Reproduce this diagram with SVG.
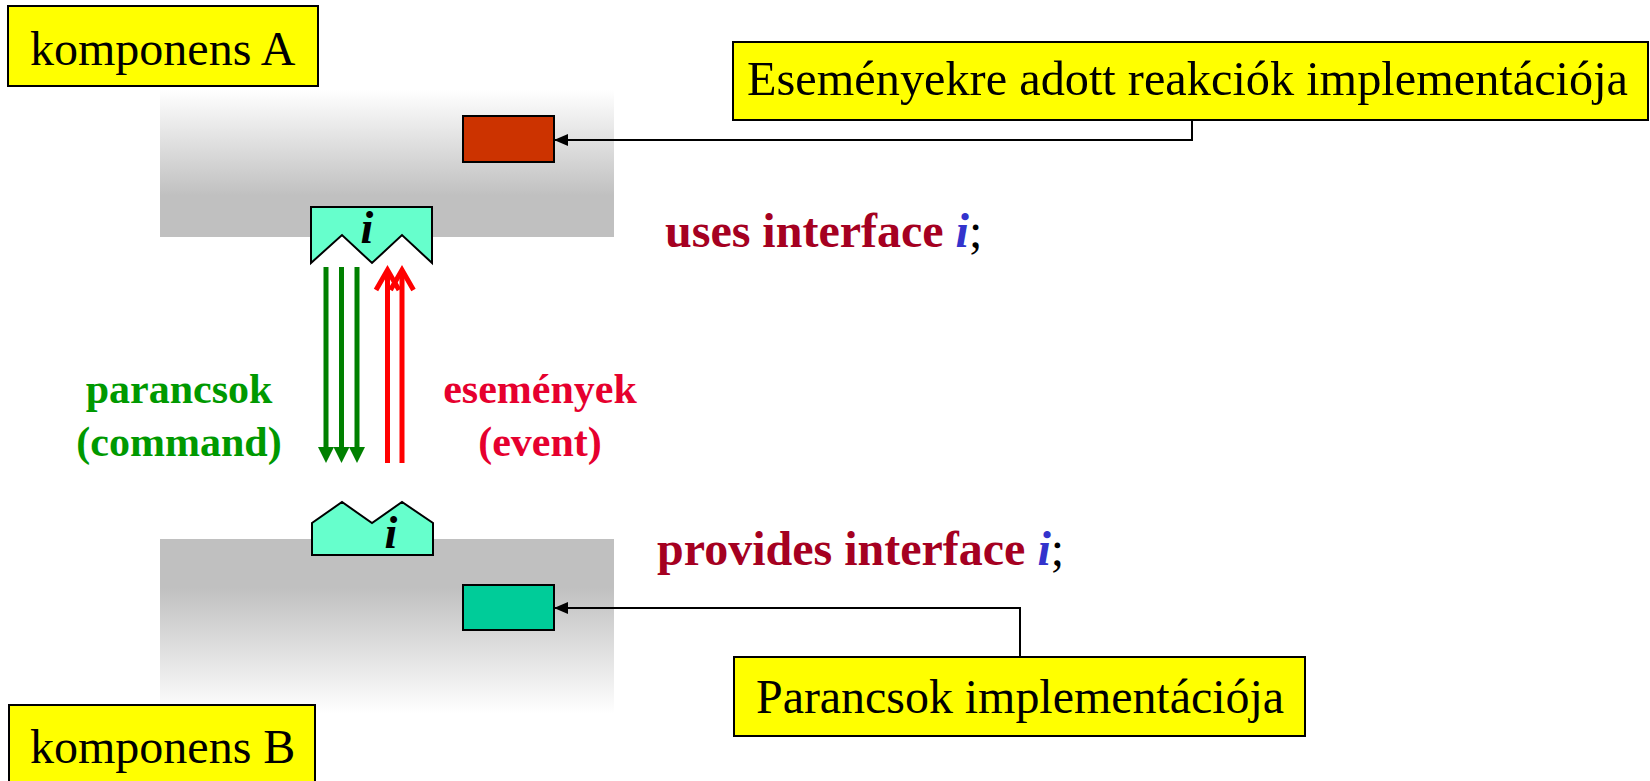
<svg xmlns="http://www.w3.org/2000/svg" width="1650" height="781" viewBox="0 0 1650 781">
<style>
.lbl{font-family:"Liberation Serif","Times New Roman",serif;font-size:48px;fill:#000}
.ybox{fill:#ffff00;stroke:#000;stroke-width:2}
.decl{font-family:"Liberation Serif","Times New Roman",serif;font-size:48px;font-weight:bold;fill:#a50021}
.iv{font-style:italic;fill:#3333cc}
.semi{font-weight:normal;fill:#000}
.iface{fill:#66ffcc;stroke:#000;stroke-width:2}
.ilbl{font-family:"Liberation Serif","Times New Roman",serif;font-size:46px;font-weight:bold;font-style:italic;fill:#000}
.conn{fill:none;stroke:#000;stroke-width:2}
.cmd{font-family:"Liberation Serif","Times New Roman",serif;font-size:42px;font-weight:bold;fill:#009900;text-anchor:middle}
.evt{font-family:"Liberation Serif","Times New Roman",serif;font-size:42px;font-weight:bold;fill:#e6002e;text-anchor:middle}
.garr{stroke:#008000;stroke-width:5;fill:none}
.rarr{stroke:#ff0000;stroke-width:5;fill:none}
</style>
<defs>
<linearGradient id="gA" x1="0" y1="0" x2="0" y2="1">
<stop offset="0" stop-color="#ffffff"/>
<stop offset="0.72" stop-color="#c0c0c0"/>
<stop offset="1" stop-color="#c0c0c0"/>
</linearGradient>
<linearGradient id="gB" x1="0" y1="0" x2="0" y2="1">
<stop offset="0" stop-color="#c0c0c0"/>
<stop offset="0.28" stop-color="#c0c0c0"/>
<stop offset="1" stop-color="#ffffff"/>
</linearGradient>
<marker id="ah" markerWidth="14" markerHeight="12" refX="13" refY="6" orient="auto" markerUnits="userSpaceOnUse">
<path d="M0,0 L14,6 L0,12 Z" fill="#000"/>
</marker>
</defs>

<g id="compA">
<rect x="160" y="90" width="454" height="147" fill="url(#gA)"/>
</g>
<g id="compB">
<rect x="160" y="539" width="454" height="175" fill="url(#gB)"/>
</g>

<g id="labelA">
<rect class="ybox" x="8" y="6" width="310" height="80"/>
<text class="lbl" x="30" y="65">komponens A</text>
</g>
<g id="labelB">
<rect class="ybox" x="9" y="705" width="306" height="80"/>
<text class="lbl" x="30" y="763">komponens B</text>
</g>

<g id="eventImpl">
<rect x="463" y="116" width="91" height="46" fill="#cc3300" stroke="#000" stroke-width="2"/>
</g>
<g id="cmdImpl">
<rect x="463" y="585" width="91" height="45" fill="#00cc99" stroke="#000" stroke-width="2"/>
</g>

<g id="ifaceA">
<path class="iface" d="M311,207 H432 V263 L402,235 L372,263 L342,235 L311,263 Z"/>
<text class="ilbl" x="367" y="243" text-anchor="middle">i</text>
</g>
<g id="ifaceB">
<path class="iface" d="M312,555 H433 V523 L402,502 L372,523 L342,502 L312,523 Z"/>
<text class="ilbl" x="391" y="548" text-anchor="middle">i</text>
</g>

<g id="noteEvents">
<rect class="ybox" x="733" y="42" width="915" height="78"/>
<text class="lbl" x="747" y="95" textLength="881" lengthAdjust="spacingAndGlyphs">Eseményekre adott reakciók implementációja</text>
</g>
<g id="noteCmds">
<rect class="ybox" x="734" y="657" width="571" height="79"/>
<text class="lbl" x="756" y="713" textLength="528" lengthAdjust="spacingAndGlyphs">Parancsok implementációja</text>
</g>

<g id="usesDecl">
<text class="decl" x="665" y="247">uses interface <tspan class="iv">i</tspan><tspan class="semi">;</tspan></text>
</g>
<g id="providesDecl">
<text class="decl" x="657" y="565">provides interface <tspan class="iv">i</tspan><tspan class="semi">;</tspan></text>
</g>

<g id="cmdLabel">
<text class="cmd" x="179" y="403">parancsok</text>
<text class="cmd" x="179" y="456">(command)</text>
</g>
<g id="evtLabel">
<text class="evt" x="540" y="403">események</text>
<text class="evt" x="540" y="456">(event)</text>
</g>

<g id="connectors">
<polyline class="conn" points="1192,120 1192,140 555,140" marker-end="url(#ah)"/>
<polyline class="conn" points="1020,657 1020,608 555,608" marker-end="url(#ah)"/>
<g id="commandArrows">
<line class="garr" x1="326" y1="267" x2="326" y2="450"/>
<line class="garr" x1="341.5" y1="267" x2="341.5" y2="450"/>
<line class="garr" x1="357" y1="267" x2="357" y2="450"/>
<path d="M318,447 L334,447 L326,463 Z" fill="#008000"/>
<path d="M333.5,447 L349.5,447 L341.5,463 Z" fill="#008000"/>
<path d="M349,447 L365,447 L357,463 Z" fill="#008000"/>
</g>
<g id="eventArrows">
<line class="rarr" x1="387.5" y1="463" x2="387.5" y2="272"/>
<line class="rarr" x1="402" y1="463" x2="402" y2="272"/>
<polyline class="rarr" points="376,290 387.5,270 399,290"/>
<polyline class="rarr" points="390.5,290 402,270 413.5,290"/>
</g>
</g>
</svg>
